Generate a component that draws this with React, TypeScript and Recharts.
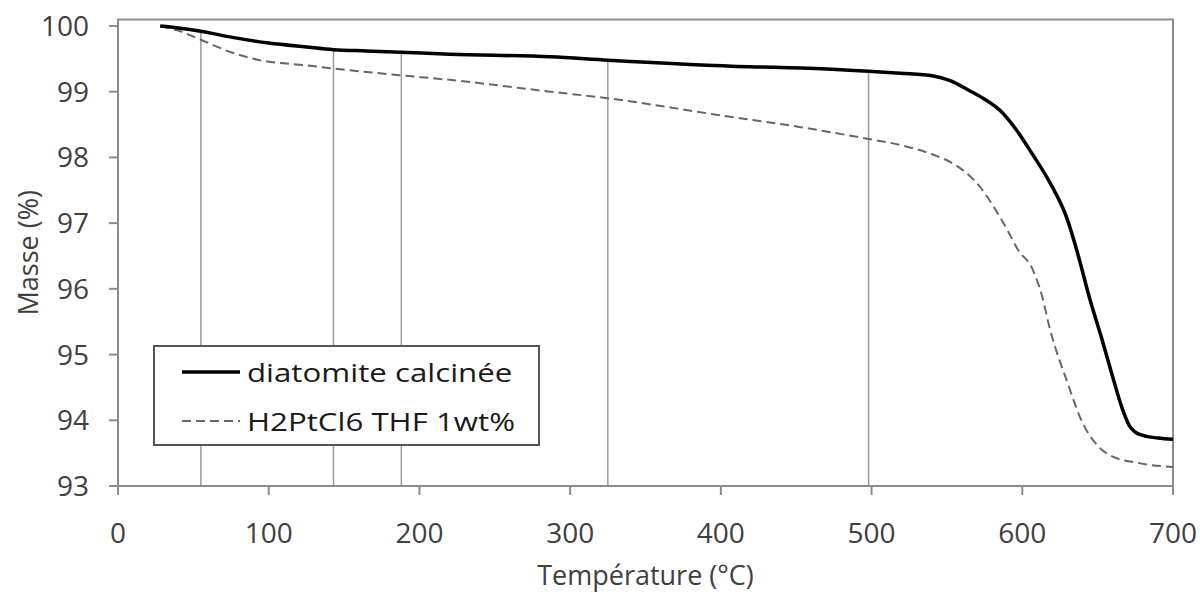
import { LineChart, Line, XAxis, YAxis, ReferenceLine, ReferenceArea } from "recharts";

// Temperature (°C) / mass (%) pairs
const calcTemp = [28, 40, 55, 75, 100, 125, 143, 165, 188, 220, 287, 325, 419, 453, 498, 519, 541, 553, 563, 574, 585, 596, 607, 618, 630, 636, 645, 652, 660, 666, 671, 675, 680, 690, 700];
const calcMass = [100, 99.97, 99.92, 99.83, 99.74, 99.68, 99.64, 99.62, 99.6, 99.57, 99.53, 99.48, 99.38, 99.36, 99.31, 99.28, 99.24, 99.16, 99.04, 98.9, 98.72, 98.42, 98.04, 97.63, 97.05, 96.6, 95.83, 95.3, 94.66, 94.2, 93.92, 93.82, 93.77, 93.73, 93.71];

const ptTemp = [28, 40, 55, 75, 94, 125, 144, 187, 220, 287, 325, 397, 453, 498, 519, 541, 553, 563, 572, 581, 590, 597, 607, 613, 618, 630, 640, 651, 663, 675, 685, 700];
const ptMass = [100, 99.93, 99.79, 99.6, 99.48, 99.4, 99.35, 99.25, 99.18, 99.0, 98.9, 98.65, 98.46, 98.28, 98.19, 98.04, 97.92, 97.76, 97.55, 97.25, 96.9, 96.6, 96.29, 95.9, 95.42, 94.57, 93.96, 93.59, 93.42, 93.36, 93.32, 93.29];

// vertical drop lines from the calcined curve down to the axis
const dropTemp = [55, 143, 188, 325, 498];
const dropMass = [99.92, 99.64, 99.6, 99.48, 99.31];

const xTicks = [0, 100, 200, 300, 400, 500, 600, 700];
const yTicks = [93, 94, 95, 96, 97, 98, 99, 100];

const seriesNames = ["diatomite calcinée", "H2PtCl6 THF 1wt%"];

const calcData = calcTemp.map((t, i) => ({ t, m: calcMass[i] }));
const ptData = ptTemp.map((t, i) => ({ t, m: ptMass[i] }));

const FONT = "'Open Sans', sans-serif";
const GRID = "#8c8c8c";
const TEXT = "#404040";
const DASH = "9 5";

const legendText = {
  display: "inline-block",
  transform: "scaleX(1.25)",
  transformOrigin: "left center",
  whiteSpace: "nowrap" as const,
  lineHeight: "30px",
};

const LegendBox = () => (
  <div
    style={{
      position: "absolute",
      left: 153,
      top: 345,
      width: 387,
      height: 101,
      boxSizing: "border-box",
      border: "2px solid #555",
      background: "#fff",
      fontFamily: FONT,
      fontSize: 25,
      color: "#1a1a1a",
    }}
  >
    <div style={{ position: "absolute", left: 27, top: 10, height: 30, display: "flex", alignItems: "center" }}>
      <svg width={58} height={10}>
        <line x1={0} y1={5} x2={58} y2={5} stroke="#000" strokeWidth={3.5} />
      </svg>
      <span style={{ ...legendText, marginLeft: 7 }}>{seriesNames[0]}</span>
    </div>
    <div style={{ position: "absolute", left: 27, top: 59, height: 30, display: "flex", alignItems: "center" }}>
      <svg width={58} height={10}>
        <line x1={0} y1={5} x2={58} y2={5} stroke="#666" strokeWidth={2} strokeDasharray={DASH} />
      </svg>
      <span style={{ ...legendText, marginLeft: 7 }}>{seriesNames[1]}</span>
    </div>
  </div>
);

export default function App() {
  return (
    <div style={{ position: "absolute", left: 0, top: 0, width: 1200, height: 592, background: "#fff" }}>
      <LineChart width={1200} height={592} margin={{ top: 19.4, right: 27, left: 0, bottom: 0 }}>
        <XAxis
          type="number"
          dataKey="t"
          domain={[0, 700]}
          ticks={xTicks}
          height={106}
          stroke={GRID}
          strokeWidth={2}
          tickSize={9}
          tickMargin={28}
          tick={{ fill: TEXT, fontSize: 28, fontFamily: FONT }}
          label={{ value: "Température (°C)", position: "insideBottom", offset: 7, fill: TEXT, fontSize: 27, fontFamily: FONT }}
        />
        <YAxis
          type="number"
          domain={[93, 100.1]}
          ticks={yTicks}
          width={118}
          stroke={GRID}
          strokeWidth={2}
          tickSize={9}
          tickMargin={20}
          tick={{ fill: TEXT, fontSize: 28, fontFamily: FONT }}
          label={{ value: "Masse (%)", angle: -90, position: "insideLeft", offset: 28, fill: TEXT, fontSize: 27, fontFamily: FONT, style: { textAnchor: "middle" } }}
        />
        <ReferenceArea x1={0} x2={700} y1={93} y2={100.1} fill="none" stroke={GRID} strokeWidth={2} />
        {dropTemp.map((t, i) => (
          <ReferenceLine
            key={t}
            segment={[{ x: t, y: 93 }, { x: t, y: dropMass[i] }]}
            stroke="#9a9a9a"
            strokeWidth={1.5}
          />
        ))}
        <Line
          data={ptData}
          dataKey="m"
          name={seriesNames[1]}
          type="monotone"
          stroke="#666"
          strokeWidth={2}
          strokeDasharray={DASH}
          dot={false}
          isAnimationActive={false}
        />
        <Line
          data={calcData}
          dataKey="m"
          name={seriesNames[0]}
          type="monotone"
          stroke="#000"
          strokeWidth={3.5}
          dot={false}
          isAnimationActive={false}
        />
      </LineChart>
      <LegendBox />
    </div>
  );
}
